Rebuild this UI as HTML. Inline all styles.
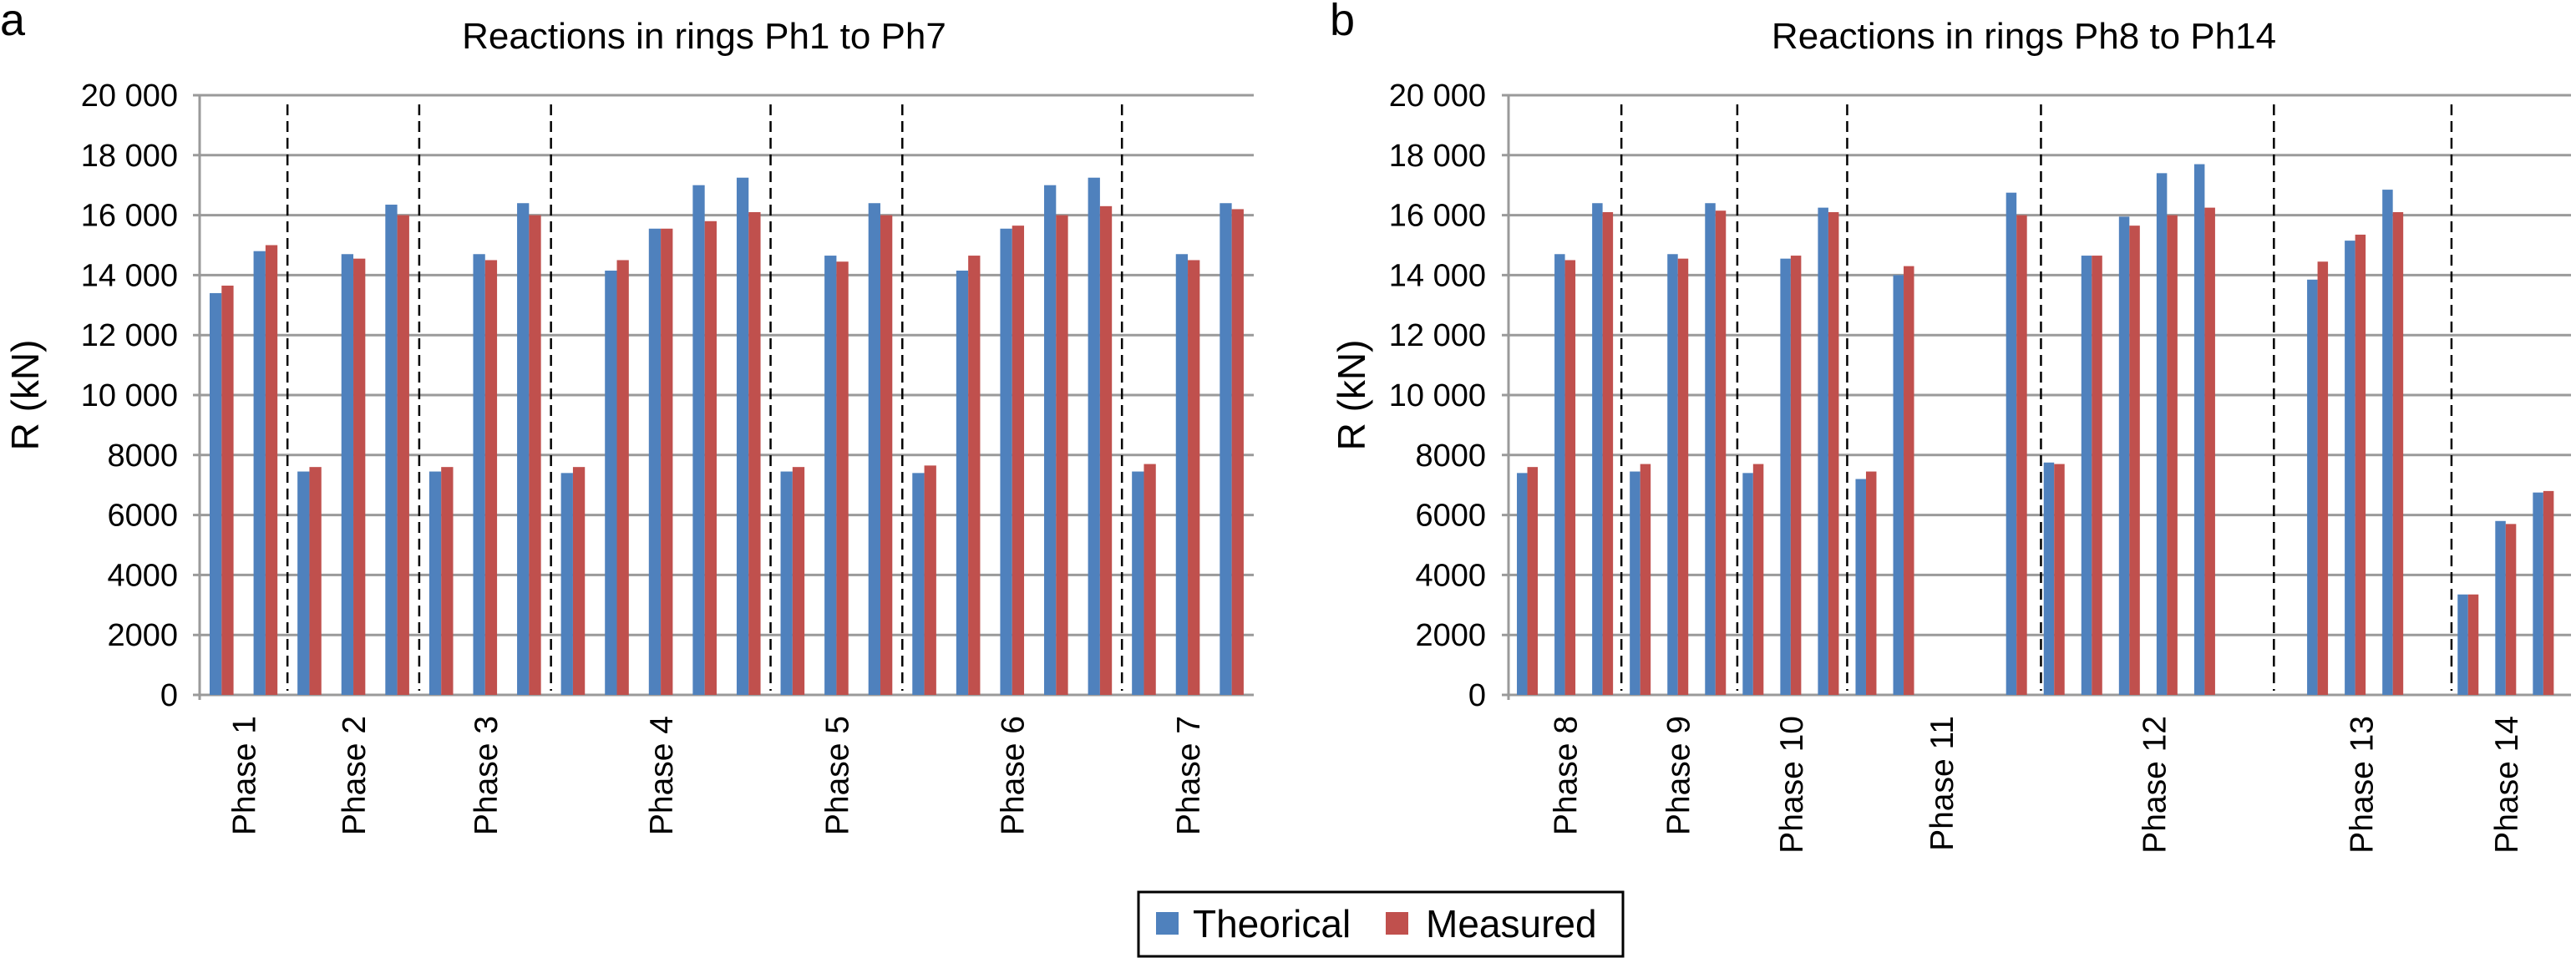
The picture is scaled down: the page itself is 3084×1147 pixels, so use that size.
<!DOCTYPE html>
<html><head><meta charset="utf-8">
<style>
html,body{margin:0;padding:0;background:#fff;}
svg{display:block;font-family:"Liberation Sans",Arial,sans-serif;}
</style></head>
<body>
<svg id="chart" width="3084" height="1147" viewBox="0 0 3084 1147" xmlns="http://www.w3.org/2000/svg">
<text x="0" y="42" font-size="54">a</text>
<text x="1592" y="42" font-size="54">b</text>
<text x="843" y="58" font-size="44" text-anchor="middle">Reactions in rings Ph1 to Ph7</text>
<text x="2423" y="58" font-size="44" text-anchor="middle">Reactions in rings Ph8 to Ph14</text>
<text transform="translate(46,473) rotate(-90)" font-size="46" text-anchor="middle">R (kN)</text>
<text transform="translate(1634,473) rotate(-90)" font-size="46" text-anchor="middle">R (kN)</text>
<g id="pa"></g>
<g id="pb"></g>
<g>
<rect x="1363" y="1068" width="580" height="77" fill="#fff" stroke="#000" stroke-width="3"/>
<rect x="1384" y="1092" width="27" height="27" fill="#4F81BD"/>
<text x="1428" y="1122" font-size="46">Theorical</text>
<rect x="1659" y="1092" width="27" height="27" fill="#C0504D"/>
<text x="1707" y="1122" font-size="46">Measured</text>
</g>
</svg>
<script>
// Panel a data (slot index, values)
const aSlots = [0,1, 2,3,4, 5,6,7, 8,9,10,11,12, 13,14,15, 16,17,18,19,20, 21,22,23];
const aTheo = [13400,14800, 7450,14700,16350, 7450,14700,16400, 7400,14150,15550,17000,17250, 7450,14650,16400, 7400,14150,15550,17000,17250, 7450,14700,16400];
const aMeas = [13650,15000, 7600,14550,16000, 7600,14500,16000, 7600,14500,15550,15800,16100, 7600,14450,16000, 7650,14650,15650,16000,16300, 7700,14500,16200];
const aPhases = ["Phase 1","Phase 2","Phase 3","Phase 4","Phase 5","Phase 6","Phase 7"];
const aPhaseBounds = [0,2,5,8,13,16,21,24];
const aSeparators = [2,5,8,13,16,21];
// Panel b data
const bSlots = [0,1,2, 3,4,5, 6,7,8, 9,10,13, 14,15,16,17,18, 21,22,23, 25,26,27];
const bTheo = [7400,14700,16400, 7450,14700,16400, 7400,14550,16250, 7200,14000,16750, 7750,14650,15950,17400,17700, 13850,15150,16850, 3350,5800,6750];
const bMeas = [7600,14500,16100, 7700,14550,16150, 7700,14650,16100, 7450,14300,16000, 7700,14650,15650,16000,16250, 14450,15350,16100, 3350,5700,6800];
const bPhases = ["Phase 8","Phase 9","Phase 10","Phase 11","Phase 12","Phase 13","Phase 14"];
const bPhaseBounds = [0,3,6,9,14,20.3,25,28];
const bSeparators = [3,6.08,9,14.15,20.34,25.06];
const yTicks = [0,2000,4000,6000,8000,10000,12000,14000,16000,18000,20000];
const yTickLabels = ["0","2000","4000","6000","8000","10 000","12 000","14 000","16 000","18 000","20 000"];

const NS="http://www.w3.org/2000/svg";
function mk(parent,tag,attrs){const e=document.createElementNS(NS,tag);for(const k in attrs)e.setAttribute(k,attrs[k]);parent.appendChild(e);return e;}

function drawPanel(g,cfg,slots,theo,meas,phases,bounds,seps,prefix){
  const y=v=>cfg.y0-(v/20000)*(cfg.y0-cfg.y20);
  const x=s=>cfg.x0+s*cfg.sw;
  yTicks.forEach((t,i)=>{
    const l=mk(g,'line',{x1:cfg.x0-8,x2:cfg.xEnd,y1:y(t),y2:y(t),stroke:'#9a9a9a','stroke-width':3});
    
    
    const tx=mk(g,'text',{x:cfg.labX,y:y(t)+13,'font-size':38,'text-anchor':'end'});
    tx.textContent=yTickLabels[i];
    
    
  });
  const ax=mk(g,'line',{x1:cfg.x0,x2:cfg.x0,y1:y(20000),y2:y(0)+6,stroke:'#9a9a9a','stroke-width':3});
  
  
  slots.forEach((s,i)=>{
    const c=x(s+0.5);
    const r1=mk(g,'rect',{x:c-cfg.bw,y:y(theo[i]),width:cfg.bw,height:y(0)-y(theo[i]),fill:'#4F81BD'});
    
    
    const r2=mk(g,'rect',{x:c,y:y(meas[i]),width:cfg.bw,height:y(0)-y(meas[i]),fill:'#C0504D'});
    
    
  });
  seps.forEach(s=>{
    const l=mk(g,'line',{x1:x(s),x2:x(s),y1:125,y2:827,stroke:'#000','stroke-width':2.5,'stroke-dasharray':'13 7'});
    
    
  });
  phases.forEach((p,i)=>{
    const c=x((bounds[i]+bounds[i+1])/2)+14;
    const t=mk(g,'text',{transform:`translate(${c},857) rotate(-90)`,'font-size':39,'text-anchor':'end'});
    t.textContent=p;
    
    
  });
}
drawPanel(document.getElementById('pa'),{x0:239,xEnd:1501,sw:52.58,bw:14.3,y0:832,y20:114,labX:213},aSlots,aTheo,aMeas,aPhases,aPhaseBounds,aSeparators,'panel-a');
drawPanel(document.getElementById('pb'),{x0:1806,xEnd:3078,sw:45.05,bw:12.5,y0:832,y20:114,labX:1779},bSlots,bTheo,bMeas,bPhases,bPhaseBounds,bSeparators,'panel-b');
</script>
</body></html>
